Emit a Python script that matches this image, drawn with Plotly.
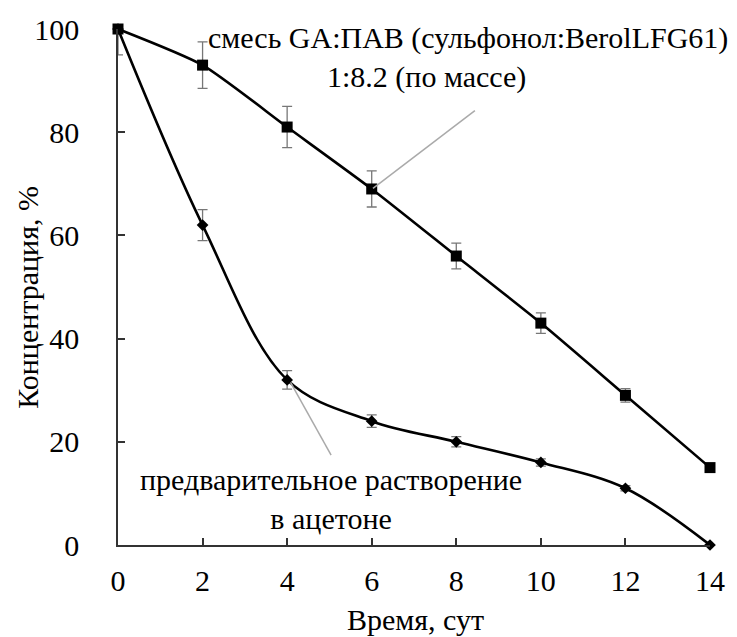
import plotly.graph_objects as go

days = [0, 2, 4, 6, 8, 10, 12, 14]
mix_vals = [100, 93, 81, 69, 56, 43, 29, 15]
mix_err = [0, 4.5, 4, 3.5, 2.5, 2, 1.3, 0.5]
acet_vals = [100, 62, 32, 24, 20, 16, 11, 0]
acet_err = [5, 3, 1.8, 1.2, 1, 0.7, 0.5, 0]

FONT = "Liberation Serif, Times New Roman, serif"
W, H = 737, 637
ML, MR, MT, MB = 118, 22, 27, 92
PW, PH = W - ML - MR, H - MT - MB


def px(xp):
    return (xp - ML) / PW


def py(yp):
    return (H - MB - yp) / PH


fig = go.Figure()
fig.add_trace(go.Scatter(
    x=days, y=acet_vals, mode="lines+markers",
    line=dict(color="black", width=2.6, shape="spline", smoothing=1.0),
    marker=dict(symbol="diamond", size=9, color="black"),
    error_y=dict(type="data", array=acet_err, color="#777777", thickness=1.3, width=5),
    cliponaxis=False, showlegend=False))
fig.add_trace(go.Scatter(
    x=days, y=mix_vals, mode="lines+markers",
    line=dict(color="black", width=2.6, shape="spline", smoothing=0.6),
    marker=dict(symbol="square", size=11, color="black"),
    error_y=dict(type="data", array=mix_err, color="#777777", thickness=1.3, width=5),
    cliponaxis=False, showlegend=False))

# leader lines
fig.add_shape(type="line", xref="x", yref="y", x0=6.03, y0=69.1, x1=8.44, y1=84.2,
              line=dict(color="#aaaaaa", width=1.5))
fig.add_shape(type="line", xref="x", yref="y", x0=4.08, y0=31.5, x1=5.04, y1=17.4,
              line=dict(color="#aaaaaa", width=1.5))

TF = dict(family=FONT, size=30, color="black")
ANC = dict(xref="paper", yref="paper", showarrow=False, xanchor="center", yanchor="middle")
fig.add_annotation(x=px(471), y=py(36), text="смесь GA:ПАВ (сульфонол:BerolLFG61)", font=TF, **ANC)
fig.add_annotation(x=px(429), y=py(75), text="1:8.2 (по массе)", font=TF, **ANC)
fig.add_annotation(x=px(333), y=py(499), text="предварительное растворение<br>в ацетоне",
                   align="center", font=TF, **ANC)

# axis titles
fig.add_annotation(x=px(418), y=py(620), text="Время, сут", font=TF, **ANC)
fig.add_annotation(x=px(27), y=py(296), text="Концентрация, %", textangle=-90, font=TF, **ANC)

axis_common = dict(showgrid=False, zeroline=False, showline=True, linecolor="#333333",
                   linewidth=1.5, ticks="inside", ticklen=7, tickwidth=1.5, tickcolor="#333333",
                   tickfont=dict(family=FONT, size=30, color="black"))
fig.update_xaxes(range=[0, 14], tickvals=list(range(0, 15, 2)),
                 ticklabelstandoff=8, **axis_common)
fig.update_yaxes(range=[0, 100], tickvals=[0, 20, 40, 60, 80, 100],
                 ticklabelstandoff=31, **axis_common)

fig.update_layout(width=W, height=H, plot_bgcolor="white", paper_bgcolor="white",
                  font=dict(family=FONT),
                  margin=dict(l=ML, r=MR, t=MT, b=MB))
fig.write_html("out.html")
